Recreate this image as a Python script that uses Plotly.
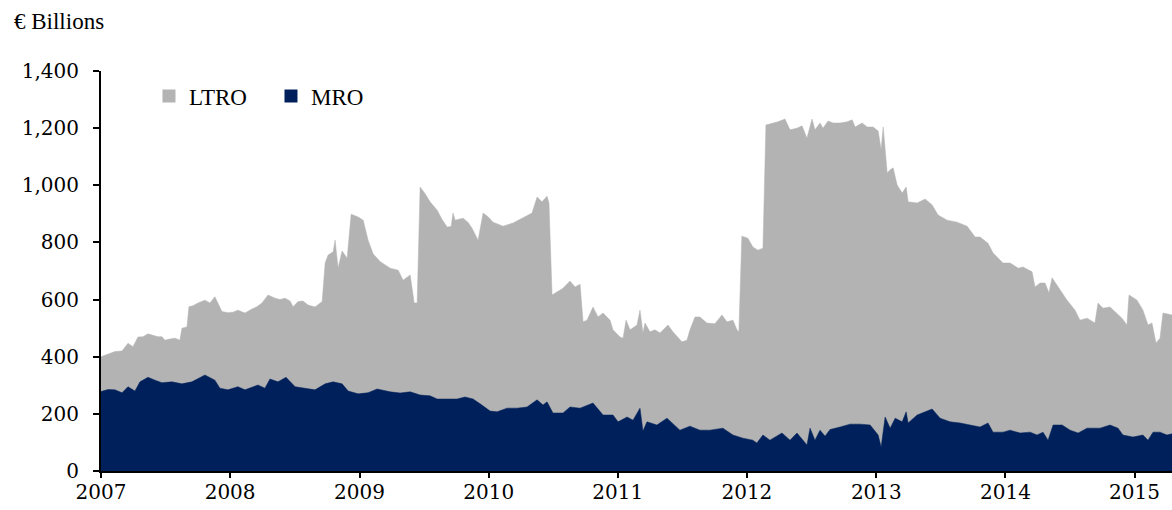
import pandas as pd
import plotly.graph_objects as go

# Total outstanding (LTRO + MRO), EUR bn; time in fractional years
total_t = [2007.000, 2007.054, 2007.108, 2007.163, 2007.209, 2007.248, 2007.286, 2007.325, 2007.364, 2007.402,
           2007.441, 2007.472, 2007.495, 2007.534, 2007.573, 2007.611, 2007.627, 2007.666, 2007.681, 2007.712,
           2007.751, 2007.805, 2007.844, 2007.882, 2007.937, 2007.983, 2008.022, 2008.060, 2008.115, 2008.169,
           2008.207, 2008.246, 2008.293, 2008.347, 2008.385, 2008.424, 2008.463, 2008.486, 2008.525, 2008.563,
           2008.602, 2008.656, 2008.711, 2008.734, 2008.757, 2008.796, 2008.811, 2008.834, 2008.865, 2008.904,
           2008.935, 2008.989, 2009.028, 2009.066, 2009.105, 2009.159, 2009.237, 2009.299, 2009.337, 2009.392,
           2009.423, 2009.446, 2009.469, 2009.508, 2009.546, 2009.601, 2009.639, 2009.678, 2009.709, 2009.724,
           2009.740, 2009.802, 2009.841, 2009.871, 2009.918, 2009.957, 2009.995, 2010.034, 2010.111, 2010.189,
           2010.266, 2010.336, 2010.375, 2010.413, 2010.452, 2010.467, 2010.491, 2010.529, 2010.576, 2010.630,
           2010.669, 2010.708, 2010.731, 2010.762, 2010.808, 2010.847, 2010.886, 2010.940, 2010.963, 2011.017,
           2011.041, 2011.064, 2011.095, 2011.149, 2011.172, 2011.195, 2011.211, 2011.249, 2011.288, 2011.327,
           2011.389, 2011.427, 2011.497, 2011.536, 2011.559, 2011.598, 2011.636, 2011.690, 2011.752, 2011.807,
           2011.845, 2011.892, 2011.923, 2011.938, 2011.961, 2012.008, 2012.046, 2012.085, 2012.124, 2012.147,
           2012.201, 2012.240, 2012.294, 2012.333, 2012.387, 2012.426, 2012.464, 2012.503, 2012.526, 2012.565,
           2012.588, 2012.627, 2012.666, 2012.720, 2012.774, 2012.813, 2012.836, 2012.890, 2012.929, 2012.975,
           2013.014, 2013.037, 2013.053, 2013.084, 2013.107, 2013.130, 2013.161, 2013.200, 2013.231, 2013.246,
           2013.316, 2013.378, 2013.432, 2013.478, 2013.548, 2013.625, 2013.703, 2013.765, 2013.803, 2013.865,
           2013.904, 2013.981, 2014.036, 2014.098, 2014.136, 2014.206, 2014.229, 2014.268, 2014.307, 2014.337,
           2014.361, 2014.423, 2014.477, 2014.539, 2014.577, 2014.632, 2014.693, 2014.717, 2014.755, 2014.810,
           2014.864, 2014.902, 2014.941, 2014.957, 2015.019, 2015.065, 2015.104, 2015.135, 2015.166, 2015.197,
           2015.220, 2015.290]
total_val = [400, 410, 418, 420, 447, 435, 469, 470, 480, 475,
             470, 470, 458, 462, 465, 458, 500, 504, 575, 578,
             588, 598, 588, 610, 558, 554, 556, 563, 553, 567,
             575, 588, 616, 605, 600, 605, 595, 575, 593, 595,
             581, 574, 593, 728, 756, 767, 808, 710, 770, 745,
             899, 889, 878, 808, 760, 733, 710, 703, 668, 686,
             588, 588, 994, 970, 942, 913, 880, 854, 856, 903,
             878, 885, 870, 850, 808, 903, 890, 871, 857, 868,
             885, 903, 959, 942, 962, 938, 616, 627, 640, 665,
             644, 654, 522, 528, 574, 539, 553, 528, 494, 469,
             465, 528, 494, 511, 563, 483, 518, 487, 494, 483,
             511, 487, 452, 458, 494, 539, 539, 518, 515, 546,
             522, 528, 494, 487, 822, 815, 784, 773, 780, 1211,
             1218, 1222, 1232, 1194, 1200, 1208, 1165, 1232, 1194, 1218,
             1200, 1225, 1218, 1218, 1222, 1229, 1204, 1218, 1204, 1204,
             1190, 1124, 1204, 1043, 1054, 1061, 1001, 973, 994, 942,
             938, 952, 931, 896, 878, 871, 857, 819, 819, 797,
             763, 728, 728, 710, 714, 697, 644, 658, 658, 623,
             676, 634, 598, 563, 528, 535, 518, 588, 570, 574,
             553, 535, 511, 616, 598, 563, 511, 518, 448, 465,
             553, 546]

# MRO outstanding, EUR bn
mro_t = [2007.000, 2007.054, 2007.108, 2007.163, 2007.209, 2007.263, 2007.302, 2007.364, 2007.418, 2007.472,
         2007.550, 2007.627, 2007.704, 2007.805, 2007.882, 2007.921, 2007.983, 2008.060, 2008.115, 2008.215,
         2008.269, 2008.308, 2008.370, 2008.432, 2008.502, 2008.579, 2008.656, 2008.734, 2008.796, 2008.865,
         2008.912, 2008.989, 2009.066, 2009.136, 2009.237, 2009.314, 2009.392, 2009.469, 2009.546, 2009.601,
         2009.678, 2009.755, 2009.817, 2009.879, 2009.934, 2010.011, 2010.065, 2010.142, 2010.220, 2010.297,
         2010.375, 2010.421, 2010.452, 2010.498, 2010.576, 2010.630, 2010.708, 2010.808, 2010.886, 2010.963,
         2011.002, 2011.072, 2011.118, 2011.172, 2011.195, 2011.226, 2011.303, 2011.381, 2011.481, 2011.559,
         2011.636, 2011.714, 2011.814, 2011.892, 2011.969, 2012.046, 2012.077, 2012.124, 2012.178, 2012.271,
         2012.333, 2012.387, 2012.464, 2012.488, 2012.526, 2012.565, 2012.604, 2012.642, 2012.720, 2012.797,
         2012.875, 2012.952, 2013.014, 2013.037, 2013.068, 2013.107, 2013.146, 2013.200, 2013.231, 2013.246,
         2013.316, 2013.378, 2013.432, 2013.494, 2013.571, 2013.649, 2013.726, 2013.803, 2013.865, 2013.904,
         2013.981, 2014.036, 2014.113, 2014.191, 2014.245, 2014.291, 2014.330, 2014.369, 2014.439, 2014.501,
         2014.563, 2014.632, 2014.732, 2014.810, 2014.872, 2014.910, 2014.988, 2015.065, 2015.104, 2015.143,
         2015.197, 2015.251, 2015.290]
mro_val = [278, 285, 284, 274, 295, 280, 312, 328, 318, 309,
           312, 305, 312, 336, 318, 290, 284, 295, 284, 301,
           290, 322, 312, 328, 295, 290, 284, 305, 312, 305,
           280, 270, 274, 287, 277, 273, 277, 266, 263, 252,
           252, 252, 259, 252, 235, 210, 207, 220, 220, 224,
           249, 231, 242, 203, 203, 224, 220, 238, 196, 196,
           172, 189, 178, 220, 140, 172, 161, 185, 143, 157,
           143, 143, 150, 126, 115, 108, 98, 126, 108, 133,
           108, 133, 91, 150, 108, 143, 122, 145, 154, 164,
           164, 161, 126, 84, 189, 150, 185, 172, 207, 168,
           196, 207, 217, 185, 172, 168, 161, 154, 168, 136,
           136, 143, 133, 136, 126, 136, 108, 161, 161, 143,
           133, 150, 150, 161, 150, 126, 119, 126, 108, 136,
           136, 126, 130]

y_ticks = [0, 200, 400, 600, 800, 1000, 1200, 1400]
x_tick_years = [2007, 2008, 2009, 2010, 2011, 2012, 2013, 2014, 2015]


def to_date(t):
    year = int(t)
    start = pd.Timestamp(year=year, month=1, day=1)
    end = pd.Timestamp(year=year + 1, month=1, day=1)
    return start + (end - start) * (t - year)


total_dates = [to_date(t) for t in total_t]
mro_dates = [to_date(t) for t in mro_t]

GRAY = "#B3B3B3"
NAVY = "#00205B"
TEXT_FONT = "Liberation Serif"
TICK_FONT = "DejaVu Serif"

fig = go.Figure()
fig.add_trace(go.Scatter(x=total_dates, y=total_val, mode="lines", fill="tozeroy",
                         fillcolor=GRAY, line=dict(color=GRAY, width=0.5),
                         showlegend=False, hoverinfo="skip"))
fig.add_trace(go.Scatter(x=mro_dates, y=mro_val, mode="lines", fill="tozeroy",
                         fillcolor=NAVY, line=dict(color=NAVY, width=0.5),
                         showlegend=False, hoverinfo="skip"))
# legend entries
fig.add_trace(go.Scatter(x=[None], y=[None], mode="markers", name="LTRO",
                         marker=dict(symbol="square", size=13, color=GRAY)))
fig.add_trace(go.Scatter(x=[None], y=[None], mode="markers", name="MRO",
                         marker=dict(symbol="square", size=13, color=NAVY)))

x_end = to_date(total_t[-1])
fig.update_layout(
    width=1172, height=510,
    margin=dict(l=101, r=0, t=71, b=39),
    paper_bgcolor="white", plot_bgcolor="white",
    font=dict(family=TEXT_FONT, size=23, color="black"),
    showlegend=True,
    legend=dict(orientation="h", x=0.0448, y=0.9375, xanchor="left", yanchor="middle",
                font=dict(family=TEXT_FONT, size=23, color="black"),
                itemwidth=30, entrywidth=77, entrywidthmode="pixels",
                bgcolor="rgba(0,0,0,0)", traceorder="normal"),
    xaxis=dict(
        type="date",
        range=[to_date(2007.0), x_end],
        tickmode="array",
        tickvals=[pd.Timestamp(year=y, month=1, day=1) for y in x_tick_years],
        ticktext=[str(y) for y in x_tick_years],
        ticks="outside", ticklen=5, tickwidth=1.5, tickcolor="black",
        ticklabelstandoff=-3,
        showline=True, linecolor="black", linewidth=2,
        showgrid=False, zeroline=False,
        tickfont=dict(family=TICK_FONT, size=20, color="black"),
    ),
    yaxis=dict(
        range=[0, 1400],
        tickmode="array", tickvals=y_ticks,
        tickformat=",",
        ticks="outside", ticklen=6, tickwidth=1.5, tickcolor="black",
        ticklabelstandoff=10,
        showline=True, linecolor="black", linewidth=2,
        showgrid=False, zeroline=False,
        tickfont=dict(family=TICK_FONT, size=20, color="black"),
    ),
    annotations=[dict(text="€ Billions", xref="paper", yref="paper",
                      x=-0.0831, y=1.1225, xanchor="left", yanchor="middle",
                      showarrow=False, font=dict(family=TEXT_FONT, size=23, color="black"))],
)

fig.write_html(
    "out.html",
    config={"displayModeBar": False},
    post_script=("document.body.style.margin='0';"
                 "document.body.style.overflow='hidden';"
                 "document.documentElement.style.overflow='hidden';"),
)
